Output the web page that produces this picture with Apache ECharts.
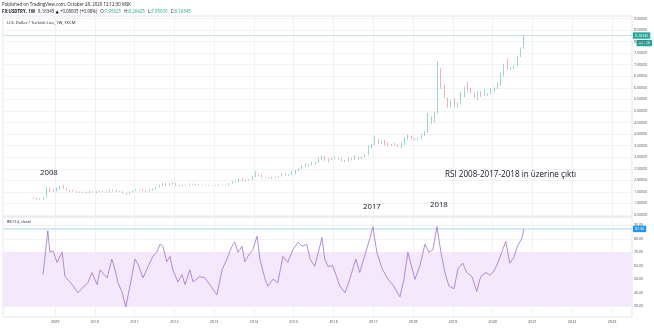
<!DOCTYPE html>
<html><head><meta charset="utf-8">
<script src="https://cdn.jsdelivr.net/npm/echarts@6/dist/echarts.min.js"></script>
<style>html,body{margin:0;padding:0;background:#fff}#c{width:654px;height:328px}</style>
</head><body><div id="c"></div>
<script>
// ---- DATA (monthly candles) ----
const startYear = 2008, startMonth = 6; // first candle: June 2008
const open = [
1.25,1.23,1.17,1.18,1.25,1.60,1.57,
1.53,1.66,1.71,1.66,1.58,1.54,1.53,1.48,1.49,1.48,1.46,1.50,
1.49,1.49,1.54,1.52,1.49,1.58,1.58,1.50,1.52,1.45,1.42,1.50,
1.54,1.58,1.60,1.54,1.52,1.59,1.62,1.70,1.79,1.85,1.77,1.84,
1.89,1.77,1.76,1.78,1.77,1.84,1.80,1.79,1.81,1.79,1.79,1.79,
1.78,1.77,1.80,1.81,1.79,1.87,1.93,1.94,2.03,2.02,1.99,2.03,
2.15,2.24,2.21,2.14,2.11,2.08,2.12,2.14,2.17,2.28,2.22,2.23,
2.34,2.43,2.50,2.61,2.67,2.65,2.69,2.77,2.92,3.03,2.91,2.90,
2.92,2.96,2.96,2.83,2.81,2.96,2.88,3.00,2.96,3.00,3.10,3.43,
3.52,3.78,3.64,3.64,3.55,3.53,3.51,3.52,3.46,3.55,3.78,3.93,
3.79,3.76,3.80,3.96,4.05,4.49,4.57,4.91,6.55,6.05,5.55,5.17,
5.29,5.18,5.32,5.63,5.96,5.83,5.79,5.60,5.82,5.65,5.72,5.75,
5.95,5.97,6.22,6.58,7.00,6.79,6.86,6.95,7.35,7.72];
const high = [
1.27,1.24,1.20,1.28,1.72,1.68,1.62,
1.69,1.76,1.80,1.68,1.60,1.60,1.55,1.51,1.52,1.50,1.55,1.53,
1.52,1.56,1.56,1.53,1.62,1.61,1.59,1.55,1.53,1.46,1.52,1.57,
1.62,1.62,1.62,1.56,1.62,1.64,1.71,1.81,1.88,1.90,1.87,1.92,
1.90,1.79,1.81,1.80,1.87,1.86,1.83,1.83,1.82,1.81,1.81,1.80,
1.79,1.81,1.83,1.82,1.89,1.97,1.96,2.07,2.09,2.03,2.05,2.18,
2.39,2.26,2.25,2.15,2.12,2.14,2.16,2.20,2.30,2.31,2.26,2.40,
2.45,2.53,2.67,2.74,2.71,2.82,2.79,2.98,3.07,3.05,2.95,2.98,
3.04,2.99,2.98,2.88,3.00,2.97,3.09,3.02,3.02,3.13,3.51,3.59,
3.94,3.79,3.73,3.74,3.63,3.57,3.61,3.56,3.64,3.85,3.98,3.94,
3.83,3.84,3.99,4.13,4.92,4.77,4.97,7.15,6.87,6.14,5.58,5.47,
5.55,5.37,5.84,6.04,6.25,6.00,5.80,5.84,5.86,5.95,5.77,5.98,
6.02,6.24,6.67,7.05,7.27,6.90,6.98,7.39,7.75,8.26425];
const low = [
1.20,1.15,1.15,1.17,1.24,1.50,1.50,
1.52,1.62,1.63,1.56,1.51,1.52,1.47,1.45,1.45,1.43,1.45,1.47,
1.44,1.48,1.50,1.46,1.48,1.55,1.49,1.49,1.44,1.38,1.40,1.48,
1.53,1.56,1.53,1.48,1.51,1.55,1.60,1.69,1.74,1.75,1.75,1.81,
1.76,1.73,1.75,1.76,1.76,1.80,1.78,1.78,1.78,1.78,1.77,1.76,
1.75,1.76,1.78,1.78,1.78,1.86,1.90,1.93,1.97,1.96,1.98,2.01,
2.14,2.17,2.13,2.09,2.06,2.07,2.10,2.12,2.16,2.20,2.18,2.22,
2.26,2.40,2.49,2.58,2.59,2.63,2.67,2.75,2.89,2.84,2.77,2.87,
2.91,2.90,2.82,2.79,2.80,2.86,2.87,2.90,2.92,3.00,3.08,3.39,
3.51,3.57,3.59,3.52,3.48,3.48,3.50,3.44,3.38,3.53,3.75,3.76,
3.72,3.73,3.78,3.93,4.05,4.45,4.51,4.89,5.96,5.55,5.14,5.15,
5.17,5.14,5.29,5.59,5.80,5.76,5.55,5.48,5.60,5.65,5.65,5.71,
5.85,5.95,6.07,6.50,6.77,6.76,6.83,6.95,7.33,7.68];
const close = [
1.23,1.17,1.18,1.25,1.60,1.57,1.53,
1.66,1.71,1.66,1.58,1.54,1.53,1.48,1.49,1.48,1.46,1.50,1.49,
1.49,1.54,1.52,1.49,1.58,1.58,1.50,1.52,1.45,1.42,1.50,1.54,
1.58,1.60,1.54,1.52,1.59,1.62,1.70,1.79,1.85,1.77,1.84,1.89,
1.77,1.76,1.78,1.77,1.84,1.80,1.79,1.81,1.79,1.79,1.79,1.78,
1.77,1.80,1.81,1.79,1.87,1.93,1.94,2.03,2.02,1.99,2.03,2.15,
2.24,2.21,2.14,2.11,2.08,2.12,2.14,2.17,2.28,2.22,2.23,2.34,
2.43,2.50,2.61,2.67,2.65,2.69,2.77,2.92,3.03,2.91,2.90,2.92,
2.96,2.96,2.83,2.81,2.96,2.88,3.00,2.96,3.00,3.10,3.43,3.52,
3.78,3.64,3.64,3.55,3.53,3.51,3.52,3.46,3.55,3.78,3.93,3.79,
3.76,3.80,3.96,4.05,4.49,4.57,4.91,6.55,6.05,5.55,5.17,5.29,
5.18,5.32,5.63,5.96,5.83,5.79,5.60,5.82,5.65,5.72,5.75,5.95,
5.97,6.22,6.58,7.00,6.79,6.86,6.95,7.35,7.72,8.26345];

// RSI(14): time in decimal years, value
const rsiTime = [2008.70,2008.82,2008.87,2008.95,2009.05,2009.18,2009.25,2009.38,2009.58,2009.70,2009.83,2009.93,
2010.06,2010.13,2010.31,2010.43,2010.51,2010.58,2010.68,2010.78,2010.93,2011.01,2011.09,2011.21,2011.34,2011.46,
2011.56,2011.64,2011.71,2011.81,2011.89,2011.96,2012.09,2012.19,2012.27,2012.39,2012.47,2012.64,2012.77,2012.89,
2013.07,2013.20,2013.32,2013.45,2013.52,2013.60,2013.70,2013.77,2013.85,2013.97,2014.08,2014.15,2014.28,2014.35,
2014.48,2014.60,2014.73,2014.85,2014.98,2015.11,2015.21,2015.33,2015.41,2015.53,2015.71,2015.78,2015.86,2015.98,
2016.16,2016.29,2016.41,2016.56,2016.66,2016.79,2016.91,2016.99,2017.09,2017.22,2017.37,2017.49,2017.67,2017.77,
2017.87,2017.94,2018.05,2018.17,2018.30,2018.40,2018.50,2018.60,2018.70,2018.80,2018.90,2019.03,2019.13,2019.25,
2019.35,2019.48,2019.60,2019.70,2019.83,2019.93,2020.03,2020.13,2020.23,2020.33,2020.43,2020.53,2020.63,2020.73,2020.79];
const rsiValue = [53.5,86,70,71,62.5,70,52,48,40,44,47.5,55,
46,57,51,65,57,47.5,41,29.5,52,65,61,51,59.5,67,
70,76,74.5,63,67,57,48,53.5,46,57,48,52,51,46,
38.5,57,65,74.5,77.5,70,74.5,63,67,72,82,65,50,45,
50,47.5,67,62.5,72,77.5,74.5,76,65,59.5,81,65,59.5,60,
45,40,50,65,55,68,80,89,70,58,50,46,37,50,
70,62,50,60,76,70,72,89,70,55,45,43,58,62,
55,52,41,52,55,53,56,62,70,78,62,66,75,80,87.34];

const yearTicks = [2009,2010,2011,2012,2013,2014,2015,2016,2017,2018,2019,2020,2021,2022,2023];
const priceTicks = [0.5,1,1.5,2,2.5,3,3.5,4,4.5,5,5.5,6,6.5,7,7.5,8,8.5,9];
const rsiTicks = [30,40,50,60,70,80,90];

// ---- build ----
const candles = close.map((c, i) => {
  const m = startMonth - 1 + i;
  const t = startYear + Math.floor(m / 12) + ((m % 12) + 0.5) / 12;
  return [t, open[i], c, low[i], high[i]];
});
const lastClose = close[close.length - 1];
const lastRsi = rsiValue[rsiValue.length - 1];
const rsiData = rsiTime.map((t, i) => [t, rsiValue[i]]);

const X0 = 2007.693, X1 = 2023.503;
const FONT = '"Open Sans", "DejaVu Sans", sans-serif';
const gridCol = '#f0f2f6';
const labCol = '#4a4e5a';

const levelLine = (xi, value, color, boxColor, text) => ({
  type: 'line', xAxisIndex: xi, yAxisIndex: xi, silent: true, showSymbol: false, z: 1,
  data: [[X0, value], [X1, value]],
  lineStyle: {color: color, width: 1, type: 'solid'},
  endLabel: {show: true, formatter: text, color: '#fff', backgroundColor: boxColor,
             fontSize: 3.6, padding: [1.2, 2], distance: 1, fontFamily: FONT}
});

const chart = echarts.init(document.getElementById('c'), null, {renderer: 'canvas'});
const option = {
  animation: false,
  backgroundColor: '#ffffff',
  textStyle: {fontFamily: FONT},
  grid: [
    {left: 3, right: 22, top: 16, height: 201, show: true, borderColor: '#e4e7ed', borderWidth: 1},
    {left: 3, right: 22, top: 217, height: 100, show: true, borderColor: '#e4e7ed', borderWidth: 1}
  ],
  xAxis: [
    {gridIndex: 0, type: 'value', min: X0, max: X1,
     axisLine: {show: false}, axisTick: {show: false, customValues: yearTicks},
     axisLabel: {show: false, customValues: yearTicks},
     splitLine: {show: true, lineStyle: {color: gridCol, width: 1}}},
    {gridIndex: 1, type: 'value', min: X0, max: X1,
     axisLine: {show: false}, axisTick: {show: false, customValues: yearTicks},
     axisLabel: {show: true, customValues: yearTicks, formatter: v => String(Math.round(v)),
                 fontSize: 3.8, color: labCol, margin: 3},
     splitLine: {show: true, lineStyle: {color: gridCol, width: 1}}}
  ],
  yAxis: [
    {gridIndex: 0, type: 'value', position: 'right', min: 0.413, max: 9.109, scale: true,
     axisLine: {show: false}, axisTick: {show: false, customValues: priceTicks},
     axisLabel: {customValues: priceTicks, formatter: v => v.toFixed(5), fontSize: 3.6, color: labCol, margin: 2},
     splitLine: {show: true, lineStyle: {color: gridCol, width: 1}}},
    {gridIndex: 1, type: 'value', position: 'right', min: 22, max: 96.2,
     axisLine: {show: false}, axisTick: {show: false, customValues: rsiTicks},
     axisLabel: {customValues: rsiTicks, formatter: v => v.toFixed(2), fontSize: 3.6, color: labCol, margin: 2},
     splitLine: {show: true, lineStyle: {color: gridCol, width: 1}}}
  ],
  series: [
    levelLine(0, lastClose, '#c4e6e2', '#26a69a', lastClose.toFixed(5)),
    {type: 'candlestick', xAxisIndex: 0, yAxisIndex: 0, z: 2,
     dimensions: ['t', 'open', 'close', 'lowest', 'highest'],
     encode: {x: 't', y: ['open', 'close', 'lowest', 'highest']},
     data: candles, barWidth: 1.1,
     itemStyle: {color: '#26a69a', color0: '#ef5350', borderColor: '#26a69a', borderColor0: '#ef5350', borderWidth: 0.45}
    },
    levelLine(1, lastRsi, '#a9d5f0', '#2196f3', lastRsi.toFixed(2)),
    {type: 'line', xAxisIndex: 1, yAxisIndex: 1, data: rsiData, showSymbol: false, z: 2,
     lineStyle: {color: '#a46fce', width: 0.8},
     markArea: {silent: true, itemStyle: {color: '#f4e9fc'},
       data: [[{xAxis: X0, yAxis: 30}, {xAxis: X1, yAxis: 70}]]}
    }
  ]
};
chart.setOption(option);

const pyClose = chart.convertToPixel({yAxisIndex: 0}, lastClose);
const ann = (text, x, y, size) => ({type: 'text', x: x, y: y,
  style: {text: text, fontSize: size, fill: '#131722', fontFamily: FONT, verticalAlign: 'middle'}});
chart.setOption({graphic: [
  {type: 'text', x: 2, y: 5, style: {text: 'Published on TradingView.com, October 28, 2020 12:12:30 MSK',
     fontSize: 4.4, fill: '#131722', fontFamily: FONT, verticalAlign: 'middle'}},
  {type: 'text', x: 2, y: 11.5, style: {
     text: '{b|FX:USDTRY, 1W} {n|8.16345 ▲ +0.08005 (+0.98%)} {n|O:}{g|7.95825} {n|H:}{g|8.26425} {n|L:}{g|7.95000} {n|C:}{g|8.16345}',
     verticalAlign: 'middle', fontFamily: FONT,
     rich: {b: {fontSize: 4.4, fill: '#131722', fontWeight: 'bold', fontFamily: FONT},
            n: {fontSize: 4.4, fill: '#131722', fontFamily: FONT},
            g: {fontSize: 4.4, fill: '#26a69a', fontFamily: FONT}}}},
  {type: 'text', x: 7, y: 23, style: {text: 'U.S. Dollar / Turkish Lira, 1W, FXCM',
     fontSize: 4.2, fill: '#131722', fontFamily: FONT, verticalAlign: 'middle'}},
  {type: 'text', x: 7, y: 222, style: {text: 'RSI (14, close)',
     fontSize: 3.8, fill: '#131722', fontFamily: FONT, verticalAlign: 'middle'}},
  {type: 'text', x: 652, y: pyClose + 7.5, style: {text: '3d 12h', align: 'right', verticalAlign: 'middle',
     fontSize: 3.6, fill: '#fff', backgroundColor: '#26a69a', padding: [1.2, 2], fontFamily: FONT}},
  ann('2008', 40, 173, 7.8),
  ann('2017', 363, 207, 7.8),
  ann('2018', 430, 205, 7.8),
  ann('RSI 2008-2017-2018 in üzerine çıktı', 445, 175, 8.1)
]});
</script>
</body></html>
